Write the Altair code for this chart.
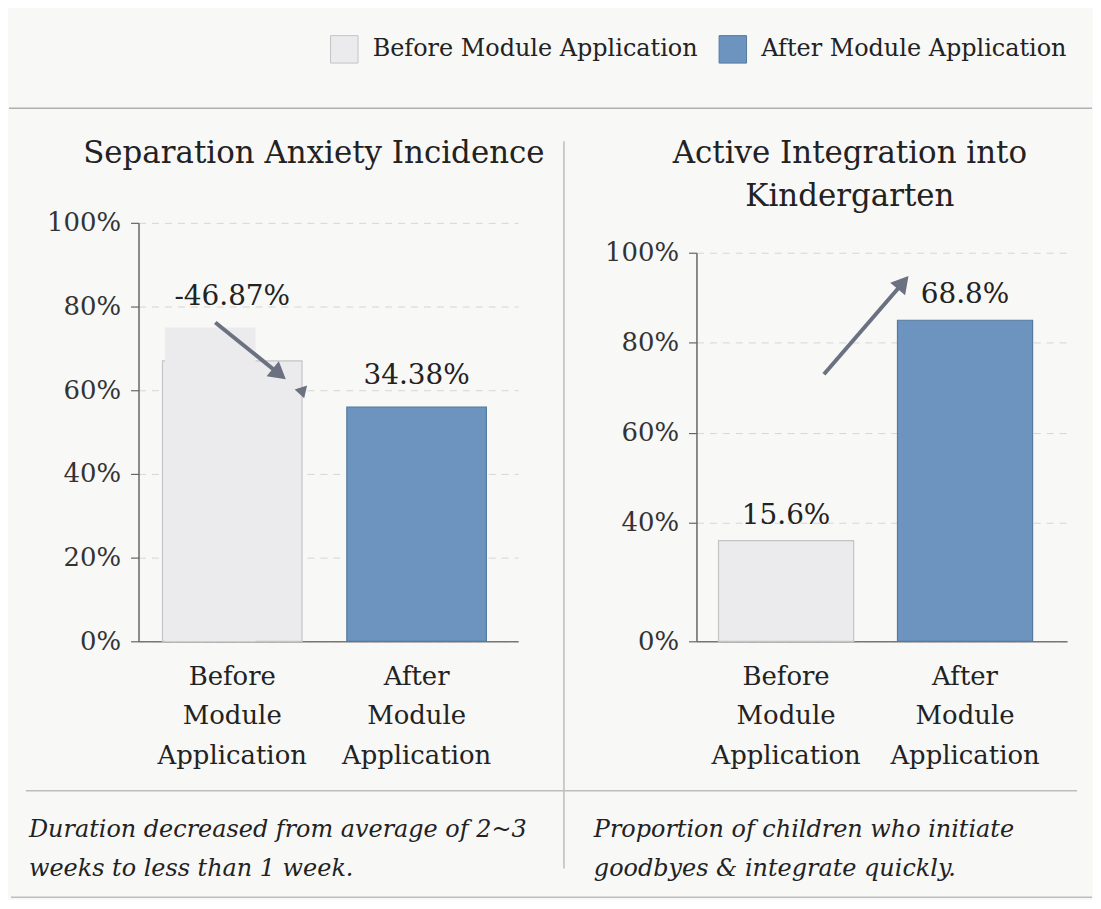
import altair as alt
import pandas as pd

# ---------------- data ----------------
categories = ["Before Module Application", "After Module Application"]

sep_values = [75, 56]          # bar tops (left panel)
sep_step_value = 67            # lower step on the right side of the "before" bar
sep_labels = ["-46.87%", "34.38%"]
sep_ticks = [0, 20, 40, 60, 80, 100]
sep_arrow = [76.2, 64.3]       # arrow start / head (y values)
sep_pointer = [59.8]           # small pointer triangle (y value)

int_values = [34, 85]          # bar tops (right panel)
int_labels = ["15.6%", "68.8%"]
int_ticks = [0, 40, 60, 80, 100]
int_arrow = [73, 92.9]         # arrow start / head (y values)

left_title = "Separation Anxiety Incidence"
right_title = ["Active Integration into", "Kindergarten"]
left_note = ["Duration decreased from average of 2~3", "weeks to less than 1 week."]
right_note = ["Proportion of children who initiate", "goodbyes & integrate quickly."]

# ---------------- style ----------------
FONT = "DejaVu Serif"
TEXT = "#222222"
FILL_RANGE = ["#ebebed", "#6c94bf"]
STROKE_RANGE = ["#c4c4c6", "#55799f"]
ARROW = "#6b7180"
LINE = "#bdbdbd"

one = pd.DataFrame({"k": [0]})

color_scale = alt.Scale(domain=categories, range=FILL_RANGE)
stroke_scale = alt.Scale(domain=categories, range=STROKE_RANGE)

legend = alt.Legend(
    title=None, orient="none", legendX=192, legendY=-189, direction="horizontal",
    symbolType="square", symbolSize=760, symbolStrokeColor="#b9b9bb", symbolStrokeWidth=1,
    symbolOpacity=1, labelFont=FONT, labelFontSize=24, labelColor=TEXT, labelOffset=14,
    columnPadding=18, labelLimit=400,
)


def x_enc(pi, po, align):
    return alt.X(
        "phase:N", sort=categories,
        scale=alt.Scale(domain=categories, paddingInner=pi, paddingOuter=po, align=align),
        axis=alt.Axis(title=None, labelAngle=0, labelExpr="split(datum.label, ' ')",
                      labelFont=FONT, labelFontSize=26, labelLineHeight=40, labelColor=TEXT,
                      labelPadding=22, ticks=False, domainColor="#777777", domainWidth=1.5,
                      grid=False, labelLimit=300),
    )


def y_enc(scale, ticks):
    return alt.Y(
        "value:Q", scale=scale,
        axis=alt.Axis(title=None, values=ticks, labelExpr="datum.value + '%'",
                      labelFont=FONT, labelFontSize=26, labelColor="#333333",
                      labelPadding=10, tickSize=8, tickColor="#666666", tickWidth=1.2,
                      domainColor="#666666", domainWidth=1.5,
                      grid=True, gridDash=[7, 6], gridColor="#d6d6d6", gridWidth=1),
    )


def deco_rule(x1, x2, y1, y2=None, color=LINE, width=1.5):
    enc = dict(x=alt.value(x1), x2=alt.value(x2), y=alt.value(y1))
    if y2 is not None:
        enc["y2"] = alt.value(y2)
    return alt.Chart(one).mark_rule(color=color, strokeWidth=width).encode(**enc)


def text_block(lines, x, y, size, align="center", style="normal", lh=40):
    return alt.Chart(one).mark_text(
        text=lines, font=FONT, fontSize=size, color=TEXT, align=align,
        baseline="alphabetic", fontStyle=style, lineHeight=lh,
    ).encode(x=alt.value(x), y=alt.value(y))


# ---------------- left panel ----------------
W1, H = 381, 420
sep_df = pd.DataFrame({"phase": categories, "value": sep_values, "label": sep_labels})
sep_bar_df = pd.DataFrame({"phase": categories, "value": [sep_step_value, sep_values[1]]})
sep_top_df = pd.DataFrame({"phase": [categories[0]], "value": [sep_values[0]]})

xs = x_enc(0.243, 0.151, 0.43)
ys = y_enc(alt.Scale(domain=[0, 100], nice=False, zero=False), sep_ticks)

bars_l = alt.Chart(sep_bar_df).mark_bar(strokeWidth=1.2).encode(
    x=xs, y=ys,
    fill=alt.Fill("phase:N", scale=color_scale, legend=legend),
    stroke=alt.Stroke("phase:N", scale=stroke_scale, legend=None),
)
# taller left part of the "before" bar (no outline, so no seam inside the bar)
top_l = alt.Chart(sep_top_df).mark_bar(width=91, xOffset=-22, fill=FILL_RANGE[0]).encode(x=xs, y=ys)
labels_l = alt.Chart(sep_df).mark_text(font=FONT, fontSize=28, color=TEXT, dy=-31,
                                       baseline="middle").encode(x=xs, y=ys, text="label:N")

arrow_l_df = pd.DataFrame({"phase": [categories[0]], "value": [sep_arrow[0]],
                           "phase2": [categories[0]], "value2": [sep_arrow[1]]})
arrow_l = alt.Chart(arrow_l_df).mark_rule(color=ARROW, strokeWidth=4, xOffset=-17,
                                          x2Offset=45).encode(
    x=xs, y=ys, x2="phase2:N", y2="value2:Q")
head_l_df = pd.DataFrame({"phase": [categories[0]], "value": [sep_arrow[1]]})
head_l = alt.Chart(head_l_df).mark_point(shape="triangle", filled=True, size=380, angle=129,
                                         color=ARROW, opacity=1, xOffset=45).encode(x=xs, y=ys)
ptr_df = pd.DataFrame({"phase": [categories[0]], "value": sep_pointer})
ptr_l = alt.Chart(ptr_df).mark_point(shape="triangle", filled=True, size=170, angle=283,
                                     color=ARROW, opacity=1, xOffset=70).encode(x=xs, y=ys)

anchor = alt.Chart(one).mark_rule(strokeOpacity=0).encode(
    x=alt.value(-130), x2=alt.value(-125), y=alt.value(-214))

left = alt.layer(
    anchor,
    deco_rule(-130, 957, -115, color="#b0b0b0"),
    deco_rule(-113, 942, 570),
    deco_rule(-128, 957, 677),
    deco_rule(427, 427, -82, 648),
    text_block(left_title, 176, -60, 31),
    text_block(left_note, -110, 616, 24, align="left", style="italic"),
    bars_l, top_l, labels_l, arrow_l, head_l, ptr_l,
).properties(width=W1, height=H)

# ---------------- right panel ----------------
W2 = 372
int_df = pd.DataFrame({"phase": categories, "value": int_values, "label": int_labels})
xr = x_enc(0.245, 0.158, 0.39)
yr = y_enc(alt.Scale(domain=[0, 40, 100], range=[420, 301, 30], nice=False, zero=False), int_ticks)

bars_r = alt.Chart(int_df).mark_bar(strokeWidth=1.2).encode(
    x=xr, y=yr,
    fill=alt.Fill("phase:N", scale=color_scale, legend=legend),
    stroke=alt.Stroke("phase:N", scale=stroke_scale, legend=None),
)
labels_r = alt.Chart(int_df).mark_text(font=FONT, fontSize=28, color=TEXT, dy=-25,
                                       baseline="middle").encode(x=xr, y=yr, text="label:N")
arrow_r_df = pd.DataFrame({"phase": [categories[0]], "value": [int_arrow[0]],
                           "phase2": [categories[1]], "value2": [int_arrow[1]]})
arrow_r = alt.Chart(arrow_r_df).mark_rule(color=ARROW, strokeWidth=4, xOffset=38,
                                          x2Offset=-64).encode(
    x=xr, y=yr, x2="phase2:N", y2="value2:Q")
head_r_df = pd.DataFrame({"phase": [categories[1]], "value": [int_arrow[1]]})
head_r = alt.Chart(head_r_df).mark_point(shape="triangle", filled=True, size=380, angle=40,
                                         color=ARROW, opacity=1, xOffset=-64).encode(x=xr, y=yr)

right = alt.layer(
    text_block(right_title, 154, -60, 31, lh=43),
    text_block(right_note, -103, 616, 24, align="left", style="italic"),
    bars_r, labels_r, arrow_r, head_r,
).properties(width=W2, height=H)

chart = alt.hconcat(left, right, spacing=179, bounds="flush").properties(
    padding=0, background="#f8f8f7"
).configure_view(stroke=None)

chart.save("out.html", embed_options={"renderer": "svg", "actions": False})
